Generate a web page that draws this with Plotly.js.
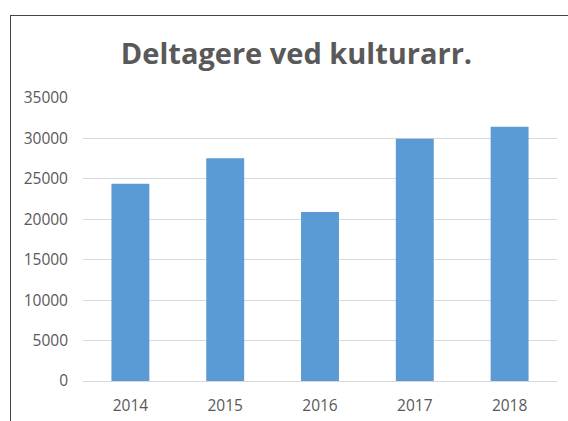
<!DOCTYPE html>
<html>
<head>
<meta charset="utf-8">
<script src="https://cdn.plot.ly/plotly-3.0.1.min.js"></script>
<style>
html,body{margin:0;padding:0;background:#fff;overflow:hidden;}
#chart{width:568px;height:421px;}
#frame{position:absolute;left:10px;top:15px;width:600px;height:460px;border:1.5px solid #444;pointer-events:none;}
</style>
</head>
<body>
<div id="chart"></div>
<div id="frame"></div>
<script>
const years = ['2014', '2015', '2016', '2017', '2018'];
const participants = [24400, 27550, 20900, 29950, 31450];
const yTicks = [0, 5000, 10000, 15000, 20000, 25000, 30000, 35000];
const titleText = 'Deltagere ved kulturarr.';

const trace = {
  type: 'bar',
  x: years,
  y: participants,
  marker: {color: '#5B9BD5'},
  hoverinfo: 'x+y'
};

const layout = {
  width: 568,
  height: 421,
  margin: {l: 83, r: 11, t: 98, b: 40},
  paper_bgcolor: '#ffffff',
  plot_bgcolor: '#ffffff',
  bargap: 0.6,
  showlegend: false,
  title: {
    text: '<b>' + titleText + '</b>',
    font: {family: 'Open Sans', size: 29, color: '#595959'},
    x: 0.522,
    xanchor: 'center',
    y: 0.872,
    yanchor: 'middle'
  },
  xaxis: {
    type: 'category',
    showgrid: false,
    showline: true,
    linecolor: '#D9D9D9',
    linewidth: 1,
    ticks: '',
    ticklabelstandoff: 10,
    tickfont: {family: 'Open Sans', size: 15.5, color: '#595959'}
  },
  yaxis: {
    range: [0, 35000],
    tickvals: yTicks,
    ticktext: yTicks.map(String),
    showgrid: true,
    gridcolor: '#D9D9D9',
    gridwidth: 1,
    zeroline: false,
    showline: false,
    ticks: '',
    ticklabelstandoff: 14,
    tickfont: {family: 'Open Sans', size: 15.5, color: '#595959'}
  }
};

Plotly.newPlot('chart', [trace], layout, {displayModeBar: false, staticPlot: true});
</script>
</body>
</html>
